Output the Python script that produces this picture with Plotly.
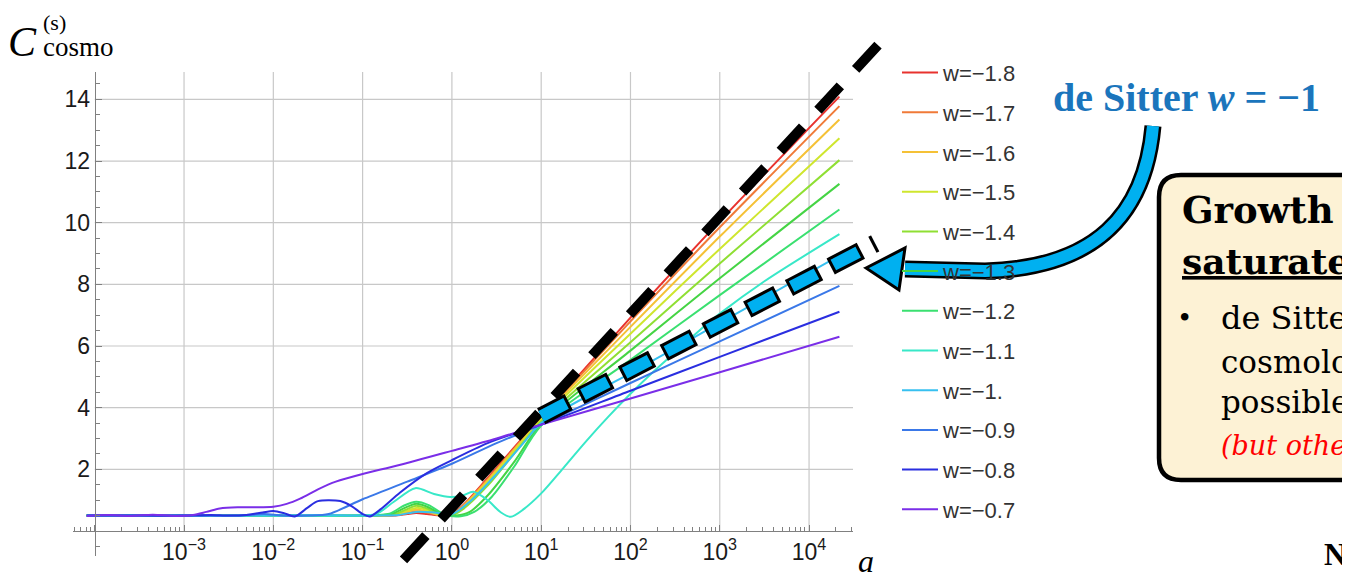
import math
import plotly.graph_objects as go

# ---------------- data ----------------
W_LABELS = ["w=−1.8", "w=−1.7", "w=−1.6", "w=−1.5", "w=−1.4", "w=−1.3",
            "w=−1.2", "w=−1.1", "w=−1.", "w=−0.9", "w=−0.8", "w=−0.7"]
COLORS = ["#e8322e", "#f07a38", "#f5c136", "#cfe62e", "#8fdf33", "#45d444",
          "#3ae070", "#38e8c8", "#37c0f0", "#3a78e8", "#2a2ee0", "#7a2ee8"]

loga_rainbow = [-4.09, -3.0, -2.0, -1.0, -0.65, -0.5, -0.4, -0.28, -0.12, 0.0, 0.12, 0.4, 0.7, 1.0, 2.0, 3.0, 4.34]
c_w18 = [0.50, 0.50, 0.50, 0.50, 0.50, 0.55, 0.58, 0.55, 0.50, 0.55, 0.82, 1.72, 2.72, 3.68, 6.92, 10.05, 14.09]
c_w17 = [0.50, 0.50, 0.50, 0.50, 0.51, 0.58, 0.64, 0.60, 0.50, 0.54, 0.80, 1.68, 2.68, 3.66, 6.80, 9.85, 13.78]
c_w16 = [0.50, 0.50, 0.50, 0.50, 0.52, 0.62, 0.70, 0.64, 0.51, 0.53, 0.78, 1.64, 2.65, 3.64, 6.62, 9.55, 13.35]
c_w15 = [0.50, 0.50, 0.50, 0.50, 0.53, 0.66, 0.75, 0.68, 0.52, 0.52, 0.75, 1.58, 2.60, 3.60, 6.40, 9.15, 12.74]
c_w14 = [0.50, 0.50, 0.50, 0.50, 0.54, 0.71, 0.82, 0.73, 0.53, 0.51, 0.70, 1.47, 2.52, 3.55, 6.12, 8.68, 12.03]

loga_w13 = [-4.09, -3.0, -2.0, -1.0, -0.68, -0.52, -0.4, -0.27, -0.1, 0.05, 0.2, 0.4, 0.7, 1.0, 2.0, 3.0, 4.34]
c_w13 = [0.50, 0.50, 0.50, 0.50, 0.55, 0.76, 0.88, 0.78, 0.53, 0.50, 0.62, 1.15, 2.25, 3.48, 5.85, 8.20, 11.26]

loga_w12 = [-4.09, -3.0, -2.0, -1.0, -0.7, -0.54, -0.4, -0.26, -0.08, 0.1, 0.25, 0.45, 0.7, 1.0, 2.0, 3.0, 4.34]
c_w12 = [0.50, 0.50, 0.50, 0.50, 0.56, 0.82, 0.95, 0.84, 0.53, 0.48, 0.62, 1.12, 2.10, 3.42, 5.55, 7.65, 10.43]

loga_w11 = [-4.09, -3.0, -2.0, -1.2, -0.85, -0.65, -0.41, -0.2, -0.02, 0.12, 0.24, 0.4, 0.55, 0.66, 0.8, 1.0,
            1.25, 1.5, 1.75, 2.0, 2.25, 2.5, 2.75, 3.0, 3.5, 4.34]
c_w11 = [0.50, 0.50, 0.50, 0.50, 0.55, 0.95, 1.39, 1.20, 1.10, 1.15, 1.27, 1.00, 0.60, 0.46, 0.70, 1.22,
         2.05, 2.90, 3.70, 4.45, 5.15, 5.80, 6.45, 7.05, 8.10, 9.63]

loga_w10 = [-4.09, -3.0, -2.0, -1.5, -1.0, -0.6, -0.4, -0.2, 0.0, 0.2, 0.5, 0.8, 1.0, 2.0, 3.0, 4.34]
c_w10 = [0.50, 0.50, 0.50, 0.52, 0.50, 0.52, 0.62, 0.60, 0.55, 0.95, 1.85, 2.85, 3.50, 5.12, 6.75, 8.93]

loga_w09 = [-4.09, -3.0, -2.4, -2.1, -1.9, -1.6, -1.38, -1.0, -0.5, 0.0, 0.5, 1.0, 2.0, 3.0, 4.34]
c_w09 = [0.50, 0.50, 0.50, 0.55, 0.50, 0.50, 0.55, 1.03, 1.60, 2.18, 2.85, 3.45, 4.80, 6.15, 7.95]

loga_w08 = [-4.09, -3.5, -3.0, -2.7, -2.5, -2.3, -2.12, -2.0, -1.88, -1.76, -1.62, -1.5, -1.25, -1.12,
            -1.0, -0.92, -0.8, -0.58, -0.28, 0.0, 0.4, 0.76, 1.0, 2.0, 3.0, 4.34]
c_w08 = [0.50, 0.50, 0.50, 0.52, 0.50, 0.52, 0.60, 0.65, 0.58, 0.47, 0.75, 0.97, 0.97, 0.80,
         0.55, 0.47, 0.70, 1.25, 1.88, 2.30, 2.85, 3.22, 3.45, 4.55, 5.65, 7.11]

loga_w07 = [-4.09, -3.85, -3.6, -3.35, -3.1, -2.9, -2.75, -2.6, -2.4, -2.2, -2.0, -1.85, -1.7, -1.5,
            -1.3, -1.0, -0.6, 0.0, 0.5, 1.0, 2.0, 3.0, 4.34]
c_w07 = [0.49, 0.52, 0.49, 0.53, 0.49, 0.52, 0.62, 0.73, 0.77, 0.77, 0.79, 0.88, 1.05, 1.35,
         1.60, 1.85, 2.13, 2.60, 3.00, 3.45, 4.30, 5.15, 6.30]

SERIES = [(loga_rainbow, c_w18), (loga_rainbow, c_w17), (loga_rainbow, c_w16), (loga_rainbow, c_w15),
          (loga_rainbow, c_w14), (loga_w13, c_w13), (loga_w12, c_w12), (loga_w11, c_w11),
          (loga_w10, c_w10), (loga_w09, c_w09), (loga_w08, c_w08), (loga_w07, c_w07)]

# overlay guides (log10 a, C)
guide_black_loga = [-0.542, 4.772]
guide_black_c = [-0.94, 15.76]
guide_ds_loga = [1.0, 4.74]
guide_ds_c = [3.72, 9.33]

X_TICK_DECADES = [-4, -3, -2, -1, 0, 1, 2, 3, 4]
Y_TICKS = [2, 4, 6, 8, 10, 12, 14]

# ---------------- layout geometry (page pixels; page body has an 8px margin) ----------------
OFF = 8
FW, FH = 1350 - OFF, 578 - OFF
PX_LOG0, PX_PER_DEC = 451.9, 89.29
PY_C0, PY_PER_UNIT = 531.0, 30.83
BOX_L, BOX_R, BOX_T, BOX_B = 73, 853, 72, 556


def lx(px):
    return (px - PX_LOG0) / PX_PER_DEC


def cy(py):
    return (PY_C0 - py) / PY_PER_UNIT


def fx(px):
    return (px - OFF) / FW


def fy(py):
    return 1 - (py - OFF) / FH


xr = [lx(BOX_L), lx(BOX_R)]
yr = [cy(BOX_B), cy(BOX_T)]
x2r = [lx(OFF), lx(1350)]
y2r = [cy(578), cy(OFF)]

fig = go.Figure()

for (la, cv), name, col in zip(SERIES, W_LABELS, COLORS):
    fig.add_trace(go.Scatter(
        x=[10 ** v for v in la], y=cv, mode="lines", name=name,
        line=dict(color=col, width=2, shape="spline", smoothing=0.8),
        legendgroup=name, hoverinfo="skip"))

# guides on full-figure overlay axes
fig.add_trace(go.Scatter(x=[10 ** v for v in guide_black_loga], y=guide_black_c, mode="lines",
                         line=dict(color="black", width=10, dash="33px,22.6px"),
                         xaxis="x2", yaxis="y2", showlegend=False, hoverinfo="skip"))
for w, col, dash in [(18, "black", "31px,13px,3px,0px"),
                     (12, "#00b0f0", "28px,19px")]:
    fig.add_trace(go.Scatter(x=[10 ** v for v in guide_ds_loga], y=guide_ds_c, mode="lines",
                             line=dict(color=col, width=w, dash=dash),
                             xaxis="x2", yaxis="y2", showlegend=False, hoverinfo="skip"))

GRID = "#c8c8c8"
shapes = []
for d in X_TICK_DECADES[1:]:
    shapes.append(dict(type="line", xref="x", yref="y", x0=10 ** d, x1=10 ** d, y0=0, y1=yr[1],
                       line=dict(color=GRID, width=1.2), layer="below"))
for v in Y_TICKS:
    shapes.append(dict(type="line", xref="x", yref="y", x0=1e-4, x1=10 ** xr[1], y0=v, y1=v,
                       line=dict(color=GRID, width=1.2), layer="below"))


def P(px, py):
    return f"{fx(px):.5f},{fy(py):.5f}"


# text box (rounded)
L, T, B, R, r = 1159, 175, 480, 1430, 22
box_path = (f"M{P(L + r, T)} L{P(R, T)} L{P(R, B)} L{P(L + r, B)} Q{P(L, B)} {P(L, B - r)} "
            f"L{P(L, T + r)} Q{P(L, T)} {P(L + r, T)} Z")
shapes.append(dict(type="path", xref="paper", yref="paper", path=box_path,
                   fillcolor="#fdf2d5", line=dict(color="black", width=4.5), layer="above"))

# curved arrow
shaft = f"M{P(1153, 126)} C{P(1145, 215)} {P(1095, 268)} {P(985, 271)} L{P(905, 269)}"
shapes.append(dict(type="path", xref="paper", yref="paper", path=shaft,
                   line=dict(color="black", width=17), layer="above"))
shapes.append(dict(type="path", xref="paper", yref="paper", path=shaft,
                   line=dict(color="#00b0f0", width=12), layer="above"))
head = f"M{P(866, 268)} L{P(905, 248)} L{P(899, 290)} Z"
shapes.append(dict(type="path", xref="paper", yref="paper", path=head, fillcolor="#00b0f0",
                   line=dict(color="black", width=3), layer="above"))

ann = []


def A(text, px, py, size, family, color="black", xanchor="left", align="left", yanchor="middle"):
    ann.append(dict(text=text, x=fx(px), y=fy(py), xref="paper", yref="paper", showarrow=False,
                    xanchor=xanchor, yanchor=yanchor, align=align,
                    font=dict(size=size, family=family, color=color)))


SERIF = "Liberation Serif"
DJS = "DejaVu Serif"
A("<i>C</i>", 6, 42, 42, SERIF)
A("<span style='font-size:22px'>(s)</span><br><span style='font-size:27px'>cosmo</span>",
  41, OFF, 20, SERIF, yanchor="top")
A("<i>a</i>", 866, 561, 32, SERIF, xanchor="center")
A("<b>de Sitter <i>w</i> = −1</b>", 1051, 97, 40, SERIF, color="#1b75bc")
A("<b>Growth</b>", 1180, 210, 37, DJS)
A("<b><u>saturate</u></b>", 1180, 261, 36, DJS)
A("•", 1184, 318, 26, DJS, xanchor="center")
A("de Sitte", 1219, 318, 32, DJS)
A("cosmolo", 1219, 362, 31, DJS)
A("possible", 1219, 402, 31, DJS)
A("<i>(but othe</i>", 1219, 446, 27, DJS, color="red")
A("<b>N</b>", 1322, 554, 31, SERIF)

minor_x = [k * 10 ** d for d in range(-5, 5) for k in range(2, 10)]
minor_x = [v for v in minor_x if xr[0] <= math.log10(v) <= xr[1]]

AX = "#808080"
TICKFONT = dict(family="Liberation Sans", size=23, color="#1a1a1a")
fig.update_layout(
    width=FW, height=FH, margin=dict(l=0, r=0, t=0, b=0),
    paper_bgcolor="white", plot_bgcolor="rgba(0,0,0,0)",
    xaxis=dict(type="log", range=xr, domain=[fx(BOX_L), fx(BOX_R)], anchor="free", position=fy(PY_C0),
               showgrid=False, zeroline=False, showline=True, linecolor=AX, linewidth=1.3,
               ticks="inside", ticklen=6, tickwidth=1.2, tickcolor=AX,
               tickmode="array", tickvals=[10 ** d for d in X_TICK_DECADES],
               ticktext=[" "] + [f"10<sup>{'−' if d < 0 else ''}{abs(d)}</sup>" for d in X_TICK_DECADES[1:]],
               tickfont=TICKFONT,
               minor=dict(tickmode="array", tickvals=minor_x, ticks="inside", ticklen=4, tickwidth=1.1,
                          tickcolor=AX, showgrid=False)),
    yaxis=dict(range=yr, domain=[fy(BOX_B), fy(BOX_T)], anchor="free", position=fx(PX_LOG0 - 4 * PX_PER_DEC),
               showgrid=False, zeroline=False, showline=True, linecolor=AX, linewidth=1.3,
               ticks="inside", ticklen=6, tickwidth=1.2, tickcolor=AX,
               tickmode="array", tickvals=Y_TICKS, tickfont=TICKFONT,
               minor=dict(ticks="inside", ticklen=4, tickwidth=1.1, tickcolor=AX, dtick=0.5, tick0=0,
                          showgrid=False)),
    xaxis2=dict(type="log", range=x2r, domain=[0, 1], anchor="y2", visible=False, fixedrange=True),
    yaxis2=dict(range=y2r, domain=[0, 1], anchor="x2", visible=False, fixedrange=True),
    legend=dict(x=fx(897), y=fy(51.8), xanchor="left", yanchor="top", bgcolor="rgba(0,0,0,0)",
                font=dict(family="Liberation Sans", size=22, color="#333333"),
                tracegroupgap=8.1, itemwidth=36),
    shapes=shapes, annotations=ann, showlegend=True,
)

fig.write_html("out.html")
